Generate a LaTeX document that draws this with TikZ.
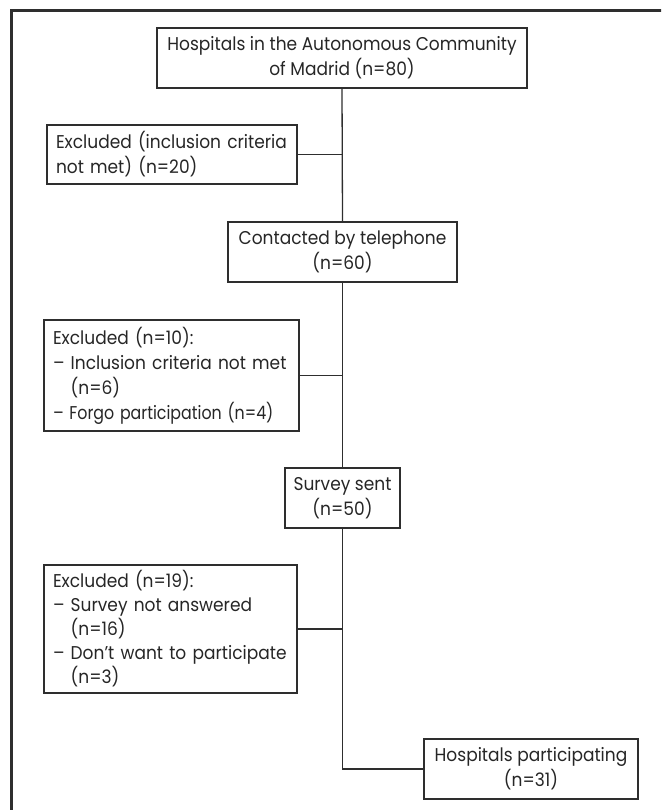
\documentclass[tikz,border=0pt]{standalone}
\usepackage{fontspec}
\setmainfont{Poppins}[FakeStretch=0.92]
\definecolor{linec}{HTML}{2E2E2E}
\definecolor{textc}{HTML}{262626}
\tikzset{
  box/.style={draw=linec, line width=1.3pt, inner ysep=0pt, text=textc,
    font=\fontsize{18.5}{25}\selectfont},
  cbox/.style={box, align=center, inner xsep=0pt},
  lbox/.style={box, align=left, inner xsep=9pt},
  conn/.style={draw=linec, line width=1.3pt},
  frame/.style={draw=linec, line width=2.6pt}
}
\newcommand{\dashind}{\hphantom{– }}
\begin{document}
\begin{tikzpicture}[x=1pt,y=-1pt]
\useasboundingbox (0,0) rectangle (661,810);
\clip (0,0) rectangle (661,810);
\draw[frame] (11.5,840) -- (11.5,10.5) -- (690,10.5);

\node[cbox, minimum width=370pt, minimum height=60pt] (top) at (342,58)
  {Hospitals in the Autonomous Community\\of Madrid (n=80)};
\node[lbox, text width=232pt, minimum height=59pt] (ex1) at (172,154.5)
  {Excluded (inclusion criteria\\not met) (n=20)};
\node[cbox, minimum width=229pt, minimum height=60pt] (contact) at (342.5,252)
  {Contacted by telephone\\(n=60)};
\node[lbox, text width=237pt, minimum height=111pt] (ex2) at (171.5,375.5)
  {Excluded (n=10):\\– Inclusion criteria not met\\\dashind(n=6)\\\scalebox{0.93}[1]{– Forgo participation (n=4)}};
\node[lbox, text width=235pt, minimum height=128pt, font=\fontsize{18.5}{24}\selectfont] (ex3) at (170.5,629)
  {Excluded (n=19):\\– Survey not answered\\\dashind(n=16)\\– Don’t want to participate\\\dashind(n=3)};
\node[cbox, minimum width=115pt, minimum height=60pt] (survey) at (342.5,498)
  {Survey sent\\(n=50)};
\node[cbox, minimum width=214pt, minimum height=60pt] (last) at (531,769)
  {Hospitals participating\\(n=31)};

\draw[conn] (top.south) -- (contact.north);
\draw[conn] (contact.south) -- (survey.north);
\draw[conn] (survey.south) |- (last.west);
\draw[conn] (ex1.east) -- (ex1.east -| top.south);
\draw[conn] (ex2.east) -- (ex2.east -| top.south);
\draw[conn] (ex3.east) -- (ex3.east -| top.south);
\end{tikzpicture}
\end{document}
